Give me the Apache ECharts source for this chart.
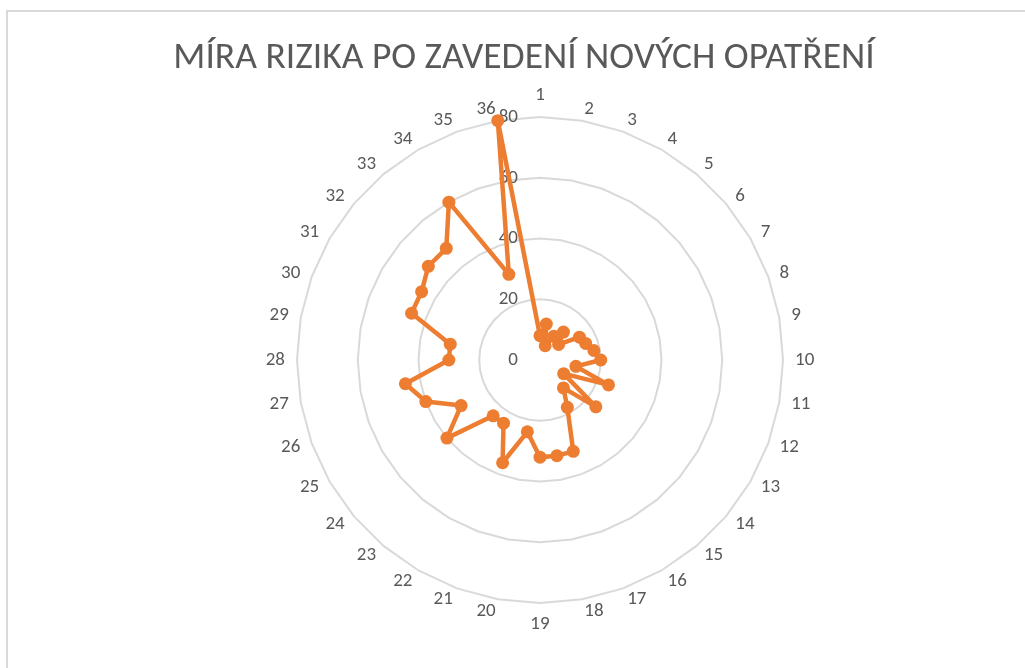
<!DOCTYPE html>
<html>
<head>
<meta charset="utf-8">
<script src="https://cdn.jsdelivr.net/npm/echarts@6/dist/echarts.min.js"></script>
<style>
  html, body { margin: 0; padding: 0; background: #fff; }
  #chart { width: 1025px; height: 668px; }
</style>
</head>
<body>
<div id="chart"></div>
<script>
// categories 1..36 around the radar
const categories = ['1', '2', '3', '4', '5', '6', '7', '8', '9', '10', '11', '12',
  '13', '14', '15', '16', '17', '18', '19', '20', '21', '22', '23', '24',
  '25', '26', '27', '28', '29', '30', '31', '32', '33', '34', '35', '36']
// risk values
const riskValues = [8, 12, 5, 9, 12, 8, 15, 16, 18, 20, 12, 24,
  9, 24, 12, 18, 32, 32, 32, 24, 36, 24, 24, 40,
  30, 40, 45, 30, 30, 45, 45, 48, 48, 60, 30, 80]
const axisMax = 80
const titleText = 'MÍRA RIZIKA PO ZAVEDENÍ NOVÝCH OPATŘENÍ'

const font = 'Carlito, "Liberation Sans Narrow", "Open Sans", sans-serif'

// radar in echarts runs counter-clockwise, excel runs clockwise:
// keep the first one on top and walk the rest backwards
const order = [0].concat(categories.map((c, i) => i).slice(1).reverse())

let myChart = echarts.init(document.getElementById('chart'))
let option = {
  animation: false,
  graphic: [
    {
      type: 'rect',
      shape: { x: 7, y: 11, width: 1040, height: 690 },
      style: { fill: 'none', stroke: '#d9d9d9', lineWidth: 2 },
      silent: true
    },
    {
      type: 'text',
      x: 524,
      y: 40,
      style: {
        text: titleText,
        fill: '#595959',
        font: '37.5px ' + font,
        textAlign: 'center'
      }
    }
  ],
  radar: {
    center: [540, 360],
    radius: 243,
    startAngle: 90,
    shape: 'polygon',
    splitNumber: 4,
    axisName: { color: '#595959', fontSize: 19, fontFamily: font },
    nameGap: 12,
    axisLine: { show: false },
    axisTick: { show: false },
    axisLabel: { show: false },
    splitLine: { lineStyle: { color: '#d9d9d9', width: 2 } },
    splitArea: { show: false },
    indicator: order.map((i) => {
      let ind = { name: categories[i], min: 0, max: axisMax }
      if (i == 0) {
        ind.axisLabel = { show: true, color: '#595959', fontSize: 19, fontFamily: font, margin: 22 }
      }
      return ind
    })
  },
  series: [
    {
      type: 'radar',
      symbol: 'circle',
      symbolSize: 13,
      itemStyle: { color: '#ed7d31' },
      lineStyle: { color: '#ed7d31', width: 4.5 },
      data: [{ value: order.map((i) => riskValues[i]), name: 'Míra rizika' }]
    }
  ]
}
myChart.setOption(option)
</script>
</body>
</html>
